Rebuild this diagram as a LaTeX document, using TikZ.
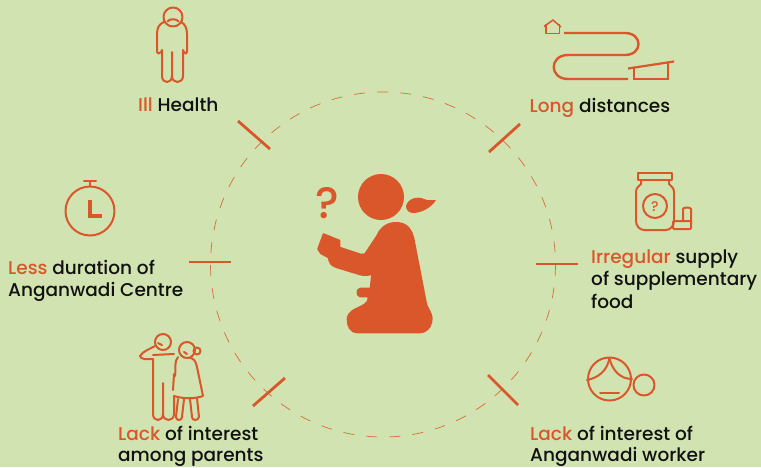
\documentclass[tikz,border=0pt]{standalone}
\usepackage{fontspec}
\setmainfont[UprightFont=* Medium]{Poppins}
\definecolor{bgc}{HTML}{D1E3B0}
\definecolor{org}{HTML}{D9572B}
\definecolor{ink}{HTML}{111111}
\tikzset{
 lab/.style={text=ink,font=\fontsize{18.5}{22}\selectfont,align=left,inner sep=0pt,anchor=base west},
 tick/.style={draw=org,line width=2.8pt},
 ico/.style={draw=org,line width=2pt,line join=round,line cap=round}
}
\newcommand{\hl}[1]{\textcolor{org}{#1}}
\begin{document}
\begin{tikzpicture}[x=1pt,y=-1pt]
\useasboundingbox (0,0) rectangle (761,467);
\fill[bgc] (0,0) rectangle (761,467);
% dashed ring
\coordinate (ringc) at (383,264.5);
\draw[org!85!bgc,line width=0.7pt,dash pattern=on 11pt off 12.06pt] (ringc) circle[radius=172.5];
% ticks
\draw[tick] (238,121)--(270,149);
\draw[tick] (489,152)--(520,124);
\draw[tick] (189,262)--(231,262);
\draw[tick] (536,264)--(578,264);
\draw[tick] (253,406)--(285,378);
\draw[tick] (488,375)--(518,405);
% centre figure
\fill[org] (381,197) circle[radius=23];
\fill[org] (406,206) .. controls (408,198) and (418,196) .. (424,199) .. controls (428,201) and (433,200) .. (436,200) .. controls (432,207) and (422,213) .. (413,213) .. controls (409,213) and (406,210) .. (406,206) -- cycle;
\filldraw[org,line width=1.6pt,line join=round] (377,236) .. controls (382,224) and (392,222) .. (399,223) .. controls (408,224) and (412,231) .. (413.5,238)
 -- (426.5,305) .. controls (430,312) and (433,316) .. (431.5,322) .. controls (430.5,328.5) and (425,332.5) .. (420,332.5)
 -- (358,332.5) .. controls (350,332.5) and (347.5,326) .. (347.5,319) .. controls (348,311) and (356,309) .. (362,306) .. controls (367,303) and (369,301) .. (368,296.5)
 -- (360,296.5) .. controls (356.5,296) and (356.5,289) .. (360,288.5) -- (370.5,288.5) -- (372,274)
 .. controls (368,275.5) and (364,275.5) .. (360,274.5) -- (337,267.5) .. controls (331,265.5) and (329.5,263) .. (328.5,257.5)
 -- (321,253.5) -- (318,249) -- (323.5,234) -- (339.5,240.5) -- (339.5,247.5) -- (361,254.5) -- (365,254) -- cycle;
\node[inner sep=0pt,text=org,font=\fontsize{44}{44}\selectfont] (qmark) at (327,203) {?};
% Ill health icon
\draw[ico] (173,17) circle[radius=9.5];
\draw[ico] (167.5,21.5) .. controls (169,18.5) and (177,18.5) .. (178.5,21.5);
\draw[ico] (164,22) .. controls (159,24) and (157,28) .. (157,34) -- (157,52) .. controls (157,54) and (160,54) .. (161,52) -- (162,50) -- (162,76) .. controls (162,84) and (172,84) .. (172,76) -- (172,52) -- (172,76) .. controls (172,84) and (183,84) .. (183,76) -- (183,50) -- (184,52) .. controls (185,54) and (187,54) .. (187,52) -- (187,34) .. controls (187,28) and (185,24) .. (181,22);
\node[lab] (t1) at (138,111.5) {\hl{Ill} Health};
% Long distances icon
\draw[org,line width=1.5pt,line join=round] (544,26.5) -- (553,20) -- (561,27);
\draw[org,line width=1.5pt,line join=round] (546,24) -- (546,33.5) -- (559.5,33.5) -- (559.5,24);
\draw[org,line width=2.4pt] (564,33) -- (625,33) .. controls (643,33) and (643,55) .. (625,55) -- (568,55) .. controls (549,55) and (549,79) .. (568,79) -- (628,79);
\draw[org,line width=2.2pt] (628,68.5) -- (674,61.5);
\draw[org,line width=2pt] (634,68) -- (634,79) -- (668,79) -- (668,62);
\node[lab] (t2) at (529.5,112) {\hl{Long} distances};
% jar icon
\draw[ico] (638,173) rectangle (672,180);
\draw[ico] (641,180) -- (641,184) .. controls (639,186) and (636,188) .. (636,192) -- (636,221) .. controls (636,226) and (640,230) .. (644,230) -- (666,230) .. controls (670,230) and (674,226) .. (674,221) -- (674,192) .. controls (674,188) and (671,186) .. (669,184) -- (669,180);
\draw[ico] (655,206) circle[radius=12];
\node[inner sep=0pt,text=org,font=\fontsize{14}{14}\selectfont] (jarq) at (655,206.5) {?};
\draw[ico] (683,221) -- (683,209) .. controls (683,207) and (691,207) .. (691,209) -- (691,224);
\draw[ico,rounded corners=1pt] (673,221) rectangle (691,229);
\node[lab] (t3) at (591,263) {\hl{Irregular} supply};
\node[lab] (t3b) at (591,285.5) {of supplementary};
\node[lab] (t3c) at (591,308.5) {food};
% worker icon
\draw[ico] (609.5,379) circle[radius=21.5];
\draw[ico] (587,380) .. controls (597,378) and (607,372) .. (609.5,358);
\draw[ico] (609.5,358) .. controls (612,370) and (620,379) .. (632,379);
\draw[ico] (644,385) circle[radius=10.5];
\draw[ico] (600,393) -- (619,393);
\node[lab] (t5) at (530,440.5) {\hl{Lack} of interest of};
\node[lab] (t5b) at (530,461.5) {Anganwadi worker};
% parents icon
\draw[ico] (163,342) circle[radius=8];
\draw[ico] (158,343) -- (162,345);
\draw[ico] (155,346) .. controls (150,349) and (143,351) .. (140,356) .. controls (141,360) and (147,359) .. (153,359) -- (153,414) .. controls (153,422) and (163,422) .. (163,414) -- (163,383) -- (163,414) .. controls (163,422) and (174,422) .. (174,414) -- (174,396);
\draw[ico] (153,355) -- (174,354);
\draw[ico] (174,374) -- (173,390);
\draw[ico] (187,350) circle[radius=8];
\draw[ico] (184,352) -- (187,354);
\draw[ico] (197,351) circle[radius=3.5];
\draw[ico] (178,357) .. controls (174,362) and (176,368) .. (175,376);
\draw[ico] (174,396) .. controls (184,399) and (194,399) .. (203,396) -- (197,367) .. controls (196,361) and (193,358) .. (190,358);
\draw[ico] (178,399) -- (176,417) .. controls (176,421) and (182,421) .. (182,417) -- (184,399);
\draw[ico] (190,399) -- (192,417) .. controls (192,421) and (198,421) .. (199,417) -- (197,398);
\node[lab] (t6) at (118,440.5) {\hl{Lack} of interest};
\node[lab] (t6b) at (118,461.5) {among parents};
% clock icon
\draw[ico] (90,211) circle[radius=24.5];
\draw[ico] (90,186) -- (90,181);
\draw[ico] (84,181) -- (96,181);
\draw[org,line width=4pt] (90,200) -- (90,215.5) -- (102,215.5);
\node[lab] (t7) at (8,274) {\hl{Less} duration of};
\node[lab] (t7b) at (8,296) {Anganwadi Centre};
\end{tikzpicture}
\end{document}
